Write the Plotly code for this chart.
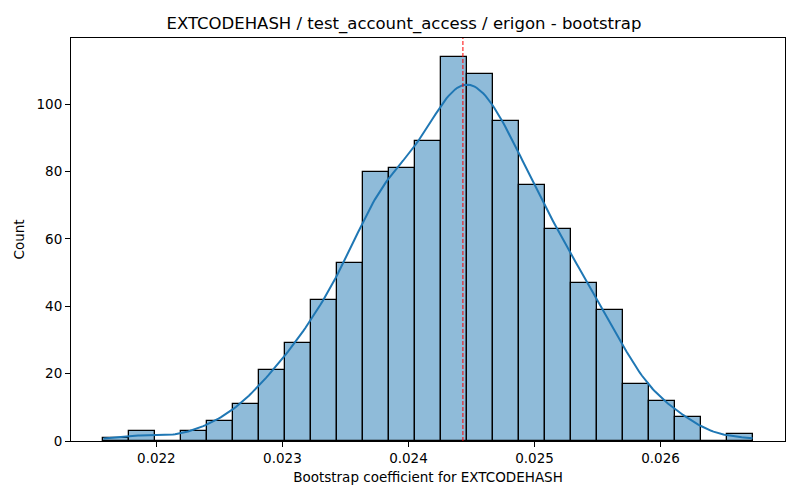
import numpy as np
import plotly.graph_objects as go

# histogram: 25 equal bins
bin_start = 0.02158
bin_width = 0.000206
counts = [1, 3, 0, 3, 6, 11, 21, 29, 42, 53, 80, 81, 89,
          114, 109, 95, 76, 63, 47, 39, 17, 12, 7, 0, 2]
estimate = 0.024432  # dashed red line
xticks = [0.022, 0.023, 0.024, 0.025, 0.026]
yticks = [0, 20, 40, 60, 80, 100]

counts = np.array(counts, dtype=float)
edges = bin_start + bin_width * np.arange(len(counts) + 1)
centers = (edges[:-1] + edges[1:]) / 2

# gaussian kde on the binned values, scaled to counts (scott bandwidth)
n = counts.sum()
mean = np.average(centers, weights=counts)
std = np.sqrt(np.average((centers - mean) ** 2, weights=counts))
bw = std * n ** (-1 / 5)
grid = np.linspace(edges[0], edges[-1], 300)
dens = (counts[None, :] * np.exp(-0.5 * ((grid[:, None] - centers[None, :]) / bw) ** 2)).sum(axis=1)
dens = dens / (n * bw * np.sqrt(2 * np.pi))
kde = dens * n * bin_width

fig = go.Figure()
fig.add_trace(go.Bar(
    x=centers, y=counts, width=bin_width,
    marker=dict(color="rgba(31,119,180,0.5)", line=dict(color="black", width=1.3)),
    hoverinfo="x+y",
))
fig.add_trace(go.Scatter(x=grid, y=kde, mode="lines", line=dict(color="#1f77b4", width=2)))
fig.add_shape(type="line", x0=estimate, x1=estimate, y0=0, y1=1, xref="x", yref="paper",
              line=dict(color="red", width=1, dash="4px,2px"))

span = edges[-1] - edges[0]
# page body has an 8px margin, so the figure is 8px smaller than the window
fig.update_layout(
    width=792, height=492,
    margin=dict(l=63, r=15, t=30, b=59),
    paper_bgcolor="white", plot_bgcolor="white",
    font=dict(family="DejaVu Sans", size=13.5, color="black"),
    showlegend=False, bargap=0,
    title=dict(text="EXTCODEHASH / test_account_access / erigon - bootstrap",
               x=0.5, xanchor="center", y=0.969, yanchor="middle",
               font=dict(size=16.5)),
    xaxis=dict(
        title=dict(text="Bootstrap coefficient for EXTCODEHASH", font=dict(size=13.5), standoff=7),
        range=[edges[0] - 0.05 * span, edges[-1] + 0.05 * span],
        tickvals=xticks, ticktext=[f"{v:.3f}" for v in xticks],
        ticks="outside", ticklen=5, tickcolor="black",
        showline=True, linecolor="black", linewidth=1, mirror=True,
        showgrid=False, zeroline=False,
    ),
    yaxis=dict(
        title=dict(text="Count", font=dict(size=13.5), standoff=8),
        range=[0, counts.max() * 1.05],
        tickvals=yticks,
        ticks="outside", ticklen=5, tickcolor="black",
        showline=True, linecolor="black", linewidth=1, mirror=True,
        showgrid=False, zeroline=False,
    ),
)

fig.write_html("out.html")
